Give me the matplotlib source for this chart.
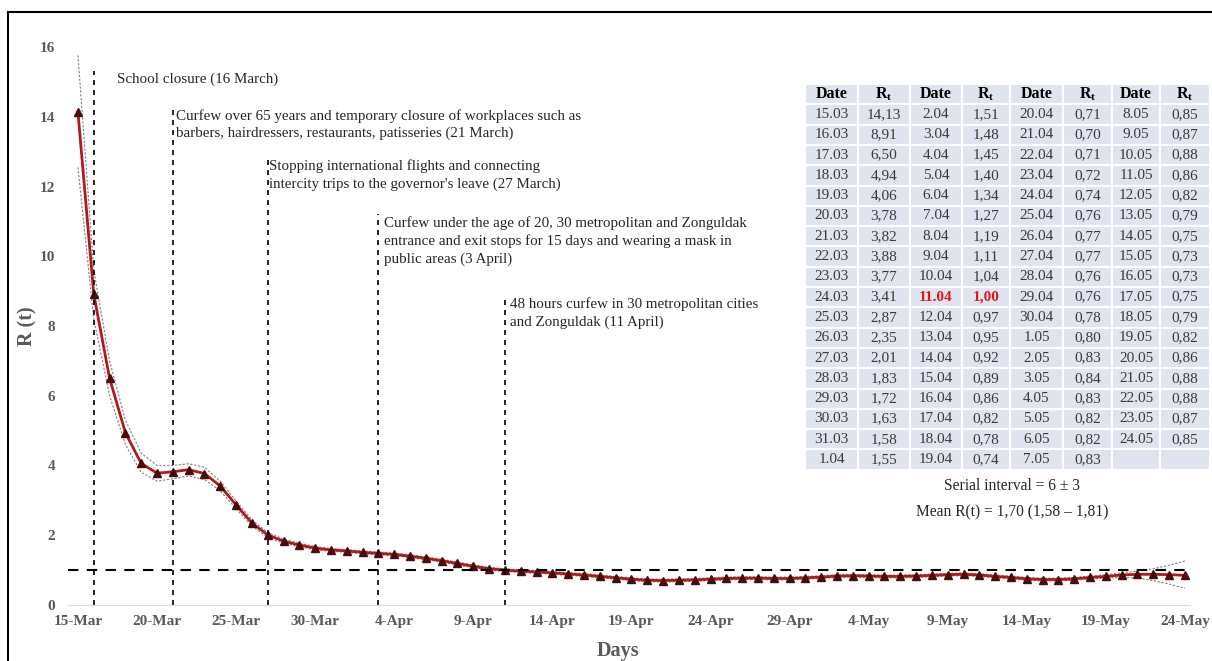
import pandas as pd
import matplotlib.pyplot as plt
from matplotlib.patches import Rectangle
from matplotlib.lines import Line2D

plt.rcParams['font.family'] = ['Liberation Serif', 'DejaVu Serif']
plt.rcParams['mathtext.fontset'] = 'custom'
plt.rcParams['mathtext.rm'] = 'Liberation Serif'
plt.rcParams['mathtext.bf'] = 'Liberation Serif:bold'

# R(t) estimates, 15 March - 24 May
dates = pd.date_range('2020-03-15', periods=71, freq='D')
rt = [14.13, 8.91, 6.50, 4.94, 4.06, 3.78, 3.82, 3.88, 3.77, 3.41, 2.87, 2.35, 2.01, 1.83, 1.72, 1.63, 1.58,
      1.55, 1.51, 1.48, 1.45, 1.40, 1.34, 1.27, 1.19, 1.11, 1.04, 1.00, 0.97, 0.95, 0.92, 0.89, 0.86, 0.82,
      0.78, 0.74, 0.71, 0.70, 0.71, 0.72, 0.74, 0.76, 0.77, 0.77, 0.76, 0.76, 0.78,
      0.80, 0.83, 0.84, 0.83, 0.82, 0.82, 0.83, 0.85, 0.87, 0.88, 0.86, 0.82, 0.79, 0.75, 0.73, 0.73,
      0.75, 0.79, 0.82, 0.86, 0.88, 0.88, 0.87, 0.85]
upper = [15.76, 9.60, 7.00, 5.30, 4.35, 4.00, 4.00, 4.05, 3.95, 3.55, 2.98, 2.44, 2.08, 1.89, 1.77, 1.68, 1.62,
         1.59, 1.55, 1.52, 1.49, 1.44, 1.38, 1.31, 1.23, 1.15, 1.08, 1.04, 1.01, 0.99, 0.96, 0.93, 0.90, 0.86,
         0.82, 0.78, 0.75, 0.74, 0.75, 0.76, 0.78, 0.80, 0.81, 0.81, 0.80, 0.80, 0.82,
         0.84, 0.87, 0.88, 0.87, 0.86, 0.86, 0.87, 0.89, 0.91, 0.92, 0.90, 0.86, 0.83, 0.79, 0.77, 0.77,
         0.79, 0.83, 0.87, 0.92, 0.97, 1.04, 1.14, 1.26]
lower = [12.55, 8.20, 6.00, 4.60, 3.80, 3.55, 3.62, 3.70, 3.60, 3.27, 2.76, 2.26, 1.94, 1.77, 1.67, 1.58, 1.54,
         1.51, 1.47, 1.44, 1.41, 1.36, 1.30, 1.23, 1.15, 1.07, 1.00, 0.96, 0.93, 0.91, 0.88, 0.85, 0.82, 0.78,
         0.74, 0.70, 0.67, 0.66, 0.67, 0.68, 0.70, 0.72, 0.73, 0.73, 0.72, 0.72, 0.74,
         0.76, 0.79, 0.80, 0.79, 0.78, 0.78, 0.79, 0.81, 0.83, 0.84, 0.82, 0.78, 0.75, 0.71, 0.69, 0.69,
         0.71, 0.75, 0.77, 0.79, 0.77, 0.70, 0.60, 0.48]

# interventions: day index, top of the marker line, annotation text
event_day = [1, 6, 12, 19, 27]
event_top = [15.3, 14.3, 12.85, 11.2, 8.9]
event_text = ["School closure (16 March)",
              "Curfew over 65 years and temporary closure of workplaces such as\n"
              "barbers, hairdressers, restaurants, patisseries (21 March)",
              "Stopping international flights and connecting\n"
              "intercity trips to the governor's leave (27 March)",
              "Curfew under the age of 20, 30 metropolitan and Zonguldak\n"
              "entrance and exit stops for 15 days and wearing a mask in\n"
              "public areas (3 April)",
              "48 hours curfew in 30 metropolitan cities\nand Zonguldak (11 April)"]
text_pos = [(2.47, 15.28), (6.2, 14.23), (12.1, 12.78), (19.35, 11.15), (27.3, 8.83)]

W, H = 1212, 661
fig = plt.figure(figsize=(W / 100, H / 100), dpi=100)
ax = fig.add_axes([68 / W, 56 / H, 1122 / W, 558 / H])

x = list(range(len(rt)))
grey = '#595959'
ax.plot(x, upper, color='#7f7f7f', lw=0.8, ls=(0, (2, 1.5)))
ax.plot(x, lower, color='#7f7f7f', lw=0.8, ls=(0, (2, 1.5)))
ax.plot(x, rt, color='#b01a1e', lw=2, marker='^', ms=5.5, mfc='#4a0b0b', mec='#4a0b0b')

for d, top in zip(event_day, event_top):
    ax.plot([d, d], [0, top], color='black', lw=1.2, ls=(0, (3, 3)))
for (tx, ty), t in zip(text_pos, event_text):
    ax.text(tx, ty, t, fontsize=10.8, color='#262626', va='top', ha='left', linespacing=1.42)

ax.axhline(1, color='black', lw=1.5, ls=(0, (5, 4)))

ax.set_xlim(-0.63, 70.32)
ax.set_ylim(0, 16)
ax.set_xticks(x[::5])
ax.set_xticklabels([f"{d.day}-{d.strftime('%b')}" for d in dates[::5]])
ax.set_yticks(range(0, 17, 2))
ax.tick_params(length=0, labelsize=11, labelcolor=grey)
ax.tick_params(axis='y', pad=9)
ax.tick_params(axis='x', pad=7)
for lab in ax.get_xticklabels() + ax.get_yticklabels():
    lab.set_fontweight('bold')
for s in ['top', 'right', 'left']:
    ax.spines[s].set_visible(False)
ax.spines['bottom'].set_color('#d9d9d9')
ax.set_xlabel('Days', fontsize=14.5, fontweight='bold', color=grey)
ax.set_ylabel('R (t)', fontsize=14.5, fontweight='bold', color=grey)
ax.xaxis.set_label_coords(0.49, -0.064)
ax.yaxis.set_label_coords(-0.027, 0.5)

# overlay in pixel coordinates for the table and the frame
ov = fig.add_axes([0, 0, 1, 1], zorder=5)
ov.set_xlim(0, W)
ov.set_ylim(H, 0)
ov.axis('off')
ov.add_line(Line2D([8, 8], [12, H], color='black', lw=1.5))
ov.add_line(Line2D([8, W], [12, 12], color='black', lw=1.5))

col_x = [805, 858, 910, 962, 1010, 1063, 1112, 1160, 1210]
row_top, row_h, nrows = 84, 20.3, 18
for c in range(8):
    for r in range(nrows + 1):
        ov.add_patch(Rectangle((col_x[c], row_top + r * row_h), col_x[c + 1] - col_x[c], row_h,
                               facecolor='#e0e4ee', edgecolor='white', lw=1.5))
for c in range(8):
    cx = (col_x[c] + col_x[c + 1]) / 2
    hdr = 'Date' if c % 2 == 0 else r'$\mathbf{R_t}$'
    ov.text(cx, row_top + row_h / 2, hdr, ha='center', va='center', fontsize=11.5, fontweight='bold', color='black')
for i, (d, v) in enumerate(zip(dates, rt)):
    c, r = divmod(i, nrows)
    y = row_top + (r + 1.5) * row_h
    red = d.day == 11 and d.month == 4
    kw = dict(fontweight='bold', color='#e0161b') if red else dict(color='#3a3a3a')
    ov.text((col_x[2 * c] + col_x[2 * c + 1]) / 2, y, f"{d.day}.{d.month:02d}", ha='center', va='center', fontsize=11, **kw)
    ov.text((col_x[2 * c + 1] + col_x[2 * c + 2]) / 2, y, f"{v:.2f}".replace('.', ','), ha='center', va='center', fontsize=11, **kw)

ov.text(1012, 486, 'Serial interval = 6 ± 3', ha='center', va='center', fontsize=11.2, color='#262626')
ov.text(1012, 512, 'Mean R(t) = 1,70 (1,58 – 1,81)', ha='center', va='center', fontsize=11.2, color='#262626')

fig.savefig('out.png', dpi=100)
